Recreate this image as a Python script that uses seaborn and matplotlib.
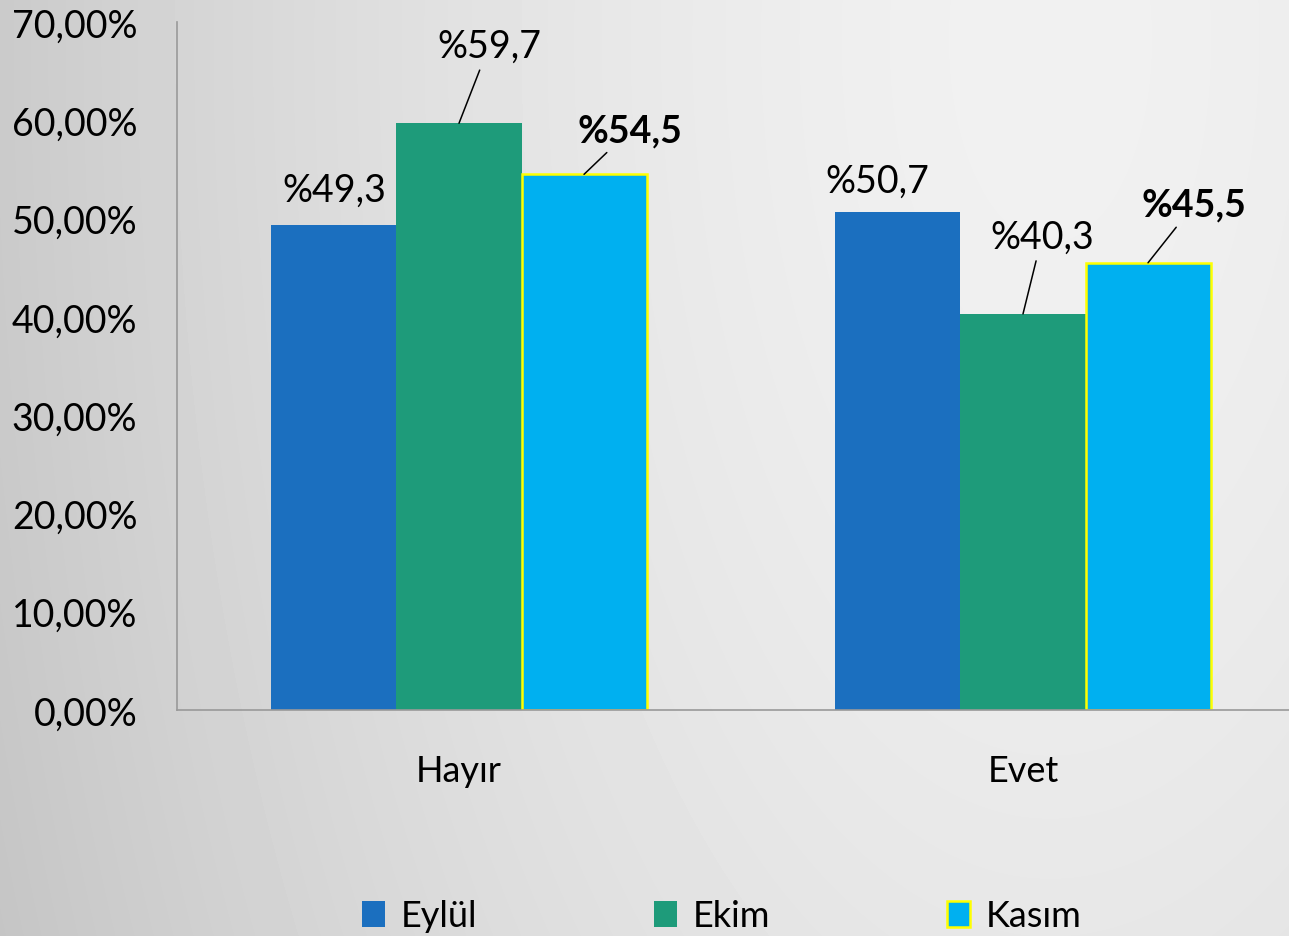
import numpy as np
import pandas as pd
import matplotlib
matplotlib.use("Agg")
import matplotlib.pyplot as plt
import seaborn as sns

# ---------------------------------------------------------------
# data
# ---------------------------------------------------------------
categories = ["Hayır", "Evet"]
months = ["Eylül", "Ekim", "Kasım"]
eylul = [49.3, 50.7]
ekim = [59.7, 40.3]
kasim = [54.5, 45.5]
yticks = [0, 10, 20, 30, 40, 50, 60, 70]

colors = {"Eylül": "#1B6FBF", "Ekim": "#1E9B7A", "Kasım": "#00B0F0"}

df = pd.DataFrame({
    "cevap": categories * 3,
    "ay": [m for m in months for _ in categories],
    "oran": eylul + ekim + kasim,
})

# label placement (pixel offsets from bar top centre), bold flag, leader line
label_layout = {
    ("Eylül", "Hayır"): (0, 36, False, False),
    ("Eylül", "Evet"): (-21, 31, False, False),
    ("Ekim", "Hayır"): (30, 77, False, True),
    ("Ekim", "Evet"): (19, 77, False, True),
    ("Kasım", "Hayır"): (46, 44, True, True),
    ("Kasım", "Evet"): (46, 58, True, True),
}

sns.set_theme(style="white")
plt.rcParams["font.family"] = ["Lato", "DejaVu Sans"]
plt.rcParams["text.color"] = "black"
plt.rcParams["xtick.labelcolor"] = "black"
plt.rcParams["ytick.labelcolor"] = "black"

W, H = 1289, 937
fig = plt.figure(figsize=(W / 100, H / 100), dpi=100)

# soft grey background gradient
bg = fig.add_axes([0, 0, 1, 1], zorder=0)
yy, xx = np.mgrid[0:H, 0:W]
d = np.sqrt((xx - 1050.0) ** 2 + ((yy - 40.0) * 0.5) ** 2)
shade = 0.945 - 0.17 * (d / 1130.0) ** 1.6
bg.imshow(shade, cmap="gray", vmin=0, vmax=1, aspect="auto",
          extent=(0, W, H, 0), interpolation="bilinear")
bg.axis("off")

left, right, bottom, top = 177, 1289, 711, 23
ax = fig.add_axes([left / W, (H - bottom) / H, (right - left) / W, (bottom - top) / H], zorder=1)
ax.patch.set_alpha(0)

sns.barplot(data=df, x="cevap", y="oran", hue="ay", order=categories, hue_order=months,
            palette=colors, saturation=1, width=0.665, linewidth=0, legend=False, ax=ax)

for patch in ax.containers[2]:
    patch.set_edgecolor("#FFFF00")
    patch.set_linewidth(1.8)

ax.set_xlabel("")
ax.set_ylabel("")
ax.set_yticks(yticks)
ax.set_yticklabels([f"{v:.2f}".replace(".", ",") + "%" for v in yticks], fontsize=27)
ax.set_xticks(range(len(categories)))
ax.set_xticklabels(categories, fontsize=26)
ax.set_xticks([-0.5, 0.5], minor=True)
ax.set_xlim(-0.5, -0.5 + (right - left) / 564)
ax.set_ylim(0, 70)
ax.tick_params(axis="x", which="major", length=0, pad=32)
ax.tick_params(axis="x", which="minor", length=8.6, width=1.2, color="#999999", direction="out")
ax.tick_params(axis="y", length=8.6, width=1.2, color="#999999", direction="out", pad=20)
for s in ["top", "right"]:
    ax.spines[s].set_visible(False)
for s in ["left", "bottom"]:
    ax.spines[s].set_color("#999999")
    ax.spines[s].set_linewidth(1.2)

# data labels
for month, container in zip(months, ax.containers):
    for cat, patch in zip(categories, container):
        dx, dy, bold, leader = label_layout[(month, cat)]
        val = patch.get_height()
        xc = patch.get_x() + patch.get_width() / 2
        txt = "%" + f"{val:.1f}".replace(".", ",")
        arrow = dict(arrowstyle="-", color="black", lw=1.1, shrinkA=2, shrinkB=0) if leader else None
        ax.annotate(txt, xy=(xc, val), xytext=(dx, dy), textcoords="offset pixels",
                    ha="center", va="center", fontsize=27,
                    fontweight="bold" if bold else "normal", arrowprops=arrow)

fig.legend(ax.containers, months, loc="center", bbox_to_anchor=(722 / W, (H - 917) / H),
           ncol=3, frameon=False, fontsize=26, handlelength=0.62, handleheight=0.7,
           handletextpad=0.45, columnspacing=4.9)

fig.savefig("out.png", dpi=100)
